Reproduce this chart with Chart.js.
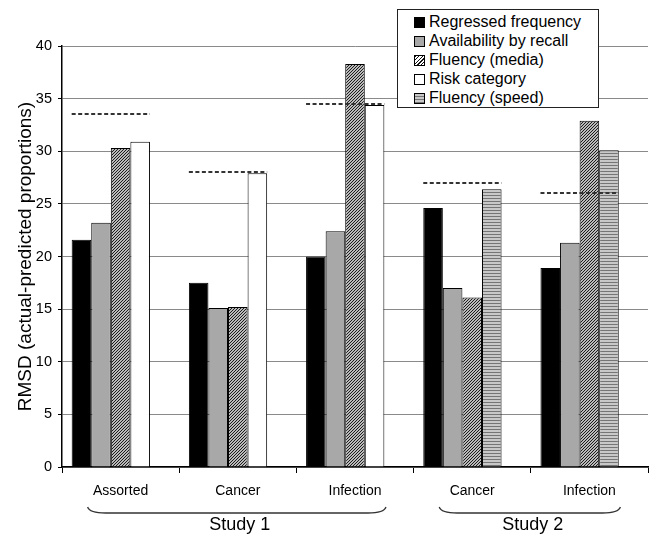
<!DOCTYPE html>
<html>
<head>
<meta charset="utf-8">
<script src="https://cdn.jsdelivr.net/npm/chart.js@4.4.1/dist/chart.umd.min.js"></script>
<style>
  body { margin: 0; background: #fff; }
  #wrap { position: relative; width: 652px; height: 535px; }
  #legend {
    position: absolute; left: 397px; top: 9px; width: 202px; height: 99px;
    box-sizing: border-box; border: 1px solid #222; background: #fff;
    padding: 2.5px 0 0 16px;
    font: 16px "Liberation Sans", Arial, sans-serif; color: #000;
  }
  .row { display: flex; align-items: center; height: 19px; white-space: nowrap; }
  .sw { width: 11px; height: 11px; box-sizing: border-box; border: 1px solid #000; margin-right: 4px; flex: none; }
</style>
</head>
<body>
<div id="wrap">
  <canvas id="chart" width="652" height="535"></canvas>
  <div id="legend"></div>
</div>
<script>
// ---- data ----
const categories = ['Assorted', 'Cancer', 'Infection', 'Cancer', 'Infection'];
const regressedFreq = [21.6, 17.5, 20.0, 24.6, 18.9];
const availRecall   = [23.2, 15.1, 22.4, 17.0, 21.3];
const fluencyMedia  = [30.3, 15.2, 38.3, 16.1, 32.9];
const riskCategory  = [30.9, 27.9, 34.4, null, null];
const fluencySpeed  = [null, null, null, 26.4, 30.1];
const baselineVals  = [33.5, 28.0, 34.5, 27.0, 26.0];   // dashed lines
const studies    = ['Study 1', 'Study 2'];
const studyFirst = [0, 3];
const studyLast  = [2, 4];
const yMin = 0, yMax = 40, yStep = 5;

const FONT = '"Liberation Sans", Arial, sans-serif';

function hatchPattern() {
  const n = 3;
  const c = document.createElement('canvas'); c.width = n; c.height = n;
  const g = c.getContext('2d');
  g.fillStyle = '#fff'; g.fillRect(0, 0, n, n);
  g.strokeStyle = '#111'; g.lineWidth = 1.1;
  g.beginPath();
  g.moveTo(0, n); g.lineTo(n, 0);
  g.moveTo(-1, 1); g.lineTo(1, -1);
  g.moveTo(n - 1, n + 1); g.lineTo(n + 1, n - 1);
  g.stroke();
  return g.createPattern(c, 'repeat');
}
function stripePattern() {
  const c = document.createElement('canvas'); c.width = 4; c.height = 3;
  const g = c.getContext('2d');
  g.fillStyle = '#c8c8c8'; g.fillRect(0, 0, 4, 3);
  g.fillStyle = '#757575'; g.fillRect(0, 0, 4, 1);
  return g.createPattern(c, 'repeat');
}

const series = [
  { label: 'Regressed frequency',   data: regressedFreq, fill: '#000000', stack: 's1', css: '#000' },
  { label: 'Availability by recall', data: availRecall,  fill: '#a8a8a8', stack: 's2', css: '#a8a8a8' },
  { label: 'Fluency (media)',        data: fluencyMedia, fill: hatchPattern(), stack: 's3',
    css: 'repeating-linear-gradient(135deg, #111 0 1px, #fff 1px 2.5px)' },
  { label: 'Risk category',          data: riskCategory, fill: '#ffffff', stack: 's4', css: '#fff' },
  { label: 'Fluency (speed)',        data: fluencySpeed, fill: stripePattern(), stack: 's4',
    css: 'repeating-linear-gradient(0deg, #757575 0 1px, #c8c8c8 1px 3px)' }
];

const datasets = series.map(s => ({
  label: s.label, data: s.data, stack: s.stack,
  backgroundColor: s.fill, borderColor: '#000', borderWidth: 1
}));
// empty fifth slot, as in the original grouping
datasets.push({ label: '', data: categories.map(() => null), stack: 's5', backgroundColor: 'transparent' });

// legend (html, over the plot)
const legendEl = document.getElementById('legend');
series.forEach(s => {
  const row = document.createElement('div'); row.className = 'row';
  const sw = document.createElement('span'); sw.className = 'sw'; sw.style.background = s.css;
  row.appendChild(sw);
  row.appendChild(document.createTextNode(s.label));
  legendEl.appendChild(row);
});

const baselinePlugin = {
  id: 'baselines',
  afterDatasetsDraw(chart) {
    const { ctx, scales: { y } } = chart;
    const bars = chart.getDatasetMeta(0).data;
    ctx.save();
    ctx.strokeStyle = '#333'; ctx.lineWidth = 2; ctx.setLineDash([4, 2.5]);
    baselineVals.forEach((v, i) => {
      const b = bars[i];
      const x0 = b.x - b.width / 2;
      const x1 = x0 + b.width * 4;
      const py = Math.round(y.getPixelForValue(v));
      ctx.beginPath(); ctx.moveTo(x0, py); ctx.lineTo(x1, py); ctx.stroke();
    });
    ctx.restore();
  }
};

const bracePlugin = {
  id: 'braces',
  afterDraw(chart) {
    const { ctx, scales: { x }, chartArea } = chart;
    const yTop = chartArea.bottom + 40, yBot = chartArea.bottom + 46;
    ctx.save();
    ctx.strokeStyle = '#333'; ctx.lineWidth = 1.3;
    ctx.fillStyle = '#000'; ctx.font = '18px ' + FONT;
    ctx.textAlign = 'center'; ctx.textBaseline = 'middle';
    studies.forEach((name, k) => {
      const a = x.getPixelForValue(studyFirst[k]) - 33;
      const b = x.getPixelForValue(studyLast[k]) + 31;
      ctx.beginPath();
      ctx.moveTo(a, yTop);
      ctx.quadraticCurveTo(a + 2, yBot, a + 18, yBot);
      ctx.lineTo(b - 18, yBot);
      ctx.quadraticCurveTo(b - 2, yBot, b, yTop);
      ctx.stroke();
      ctx.fillText(name, (a + b) / 2 + 3, chartArea.bottom + 58);
    });
    ctx.restore();
  }
};

new Chart(document.getElementById('chart'), {
  type: 'bar',
  data: { labels: categories, datasets },
  plugins: [baselinePlugin, bracePlugin],
  options: {
    responsive: false,
    animation: false,
    categoryPercentage: 0.835,
    barPercentage: 1.0,
    layout: { padding: { left: 0, right: 4, top: 46, bottom: 0 } },
    plugins: { legend: { display: false }, tooltip: { enabled: false } },
    scales: {
      x: {
        grid: {
          color: c => (c.index === categories.length ? '#333' : 'rgba(0,0,0,0)'),
          tickColor: '#000', tickLength: 6, drawOnChartArea: true
        },
        border: { color: '#000', width: 1.5 },
        ticks: { color: '#000', padding: 10, font: { family: FONT, size: 14 } },
        afterFit: s => { s.height = 68; }
      },
      y: {
        stacked: false,
        min: yMin, max: yMax,
        ticks: { stepSize: yStep, color: '#000', padding: 6, font: { family: FONT, size: 14.5 } },
        grid: { color: '#8a8a8a', tickColor: '#000', tickLength: 4 },
        border: { color: '#000', width: 1.5 },
        title: {
          display: true, text: 'RMSD (actual-predicted proportions)', color: '#000',
          font: { family: FONT, size: 19 }, padding: { top: 14, bottom: 0 }
        },
        afterFit: s => { s.width = 62; }
      }
    }
  }
});
</script>
</body>
</html>
